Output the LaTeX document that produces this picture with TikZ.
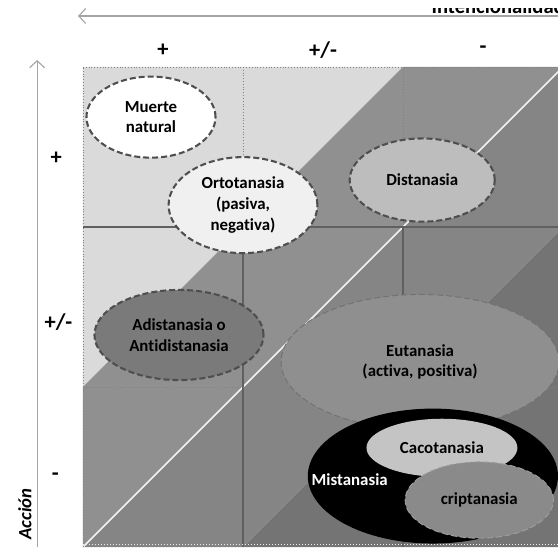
\documentclass[tikz,border=0pt]{standalone}
\usepackage{fontspec}
\setmainfont{Carlito}[Ligatures=NoCommon]
\usetikzlibrary{shapes.geometric,arrows.meta}
\definecolor{zonelight}{RGB}{218,218,218}
\definecolor{zonemid}{RGB}{144,144,144}
\definecolor{zonedark}{RGB}{133,133,133}
\definecolor{zonedeep}{RGB}{116,116,116}
\definecolor{rimgray}{RGB}{78,78,78}
\definecolor{axisgray}{RGB}{165,165,165}

\begin{document}
\begin{tikzpicture}[
  font=\fontsize{9}{11}\selectfont\bfseries,
  elip/.style={ellipse, draw=rimgray, line width=1.1pt, dash pattern=on 3.2pt off 1.6pt, align=center, inner sep=0pt},
  thinelip/.style={elip, line width=0.5pt, draw=rimgray!80},
  gridline/.style={rimgray!70, densely dotted, line width=0.5pt},
  cutline/.style={rimgray!90, line width=0.6pt},
  axis/.style={axisgray, line width=0.6pt, -{Straight Barb[length=1.3mm, width=2.8mm]}},
  scalelbl/.style={font=\fontsize{12}{14}\selectfont\bfseries}
]
\useasboundingbox (-1.556,0) rectangle (8.906,10.256);
% zonas de fondo
\fill[zonelight] (0,3) -- (0,9) -- (6,9) -- cycle;
\fill[zonemid]   (0,0) -- (0,3) -- (6,9) -- (9,9) -- cycle;
\fill[zonedark]  (0,0) -- (9,9) -- (9,6) -- (3,0) -- cycle;
\fill[zonedeep]  (3,0) -- (9,6) -- (9,0) -- cycle;
\draw[white!90!gray, line width=0.9pt] (0,0) -- (9,9);
% reticula
\draw[gridline] (0,9) -- (9,9);
\draw[gridline] (0,0) -- (0,9);
\draw[gridline] (3,9) -- (3,6);
\draw[gridline] (6,9) -- (6,6);
\draw[cutline] (3,6) -- (3,0);
\draw[cutline] (6,6) -- (6,0);
\draw[cutline] (0,6) -- (9,6);
\draw[gridline] (0,3) -- (9,3);
\draw[white!85!gray, densely dotted, line width=0.6pt] (0,0.04) -- (9,0.04);
% ejes
\coordinate (intR) at (9.2,9.956);
\coordinate (intL) at (-0.094,9.956);
\coordinate (accB) at (-0.86,0);
\coordinate (accT) at (-0.86,9.13);
\draw[axis] (intR) -- (intL);
\draw[axis] (accB) -- (accT);
\node[anchor=base west, font=\fontsize{11}{13}\selectfont\bfseries] (intenc) at (6.41,10.01) {Intencionalidad};
\fill[white] (-1.556,10.106) rectangle (8.906,10.3);
\node[rotate=90, font=\fontsize{10}{12}\selectfont\bfseries\itshape] (accion) at (-1.09,0.62) {Acción};
% escalas
\node[scalelbl] (cmas)   at (1.5,9.32) {+};
\node[scalelbl] (cmedio) at (4.5,9.32) {+/-};
\node[scalelbl] (cmenos) at (7.5,9.32) {-};
\node[scalelbl] (fmas)   at (-0.5,7.29) {+};
\node[scalelbl] (fmedio) at (-0.46,4.22) {+/-};
\node[scalelbl] (fmenos) at (-0.52,1.31) {-};
% conceptos
\node[elip, fill=white, minimum width=2.42cm, minimum height=1.52cm] (muerte) at (1.275,8.06) {Muerte\\natural};
\node[elip, fill=white!94!black, minimum width=2.79cm, minimum height=1.8cm] (orto) at (3.0,6.41) {Ortotanasia\\(pasiva,\\negativa)};
\node[elip, fill=white!74!black, minimum width=2.72cm, minimum height=1.56cm] (dist) at (6.36,6.88) {Distanasia};
\node[elip, fill=white!48!black, minimum width=3.17cm, minimum height=1.69cm] (adist) at (1.8,3.975) {Adistanasia o\\Antidistanasia};
\node[thinelip, fill=white!56!black, minimum width=5.21cm, minimum height=2.53cm] (euta) at (6.32,3.47) {Eutanasia\\(activa, positiva)};
\node[ellipse, fill=black, minimum width=4.69cm, minimum height=2.53cm] (mista) at (6.56,1.33) {};
\node[white] (mistxt) at (5.0,1.26) {Mistanasia};
\node[ellipse, fill=white!77!black, minimum width=2.83cm, minimum height=1.09cm] (caco) at (6.73,1.86) {Cacotanasia};
\node[thinelip, draw=white!62!black, fill=white!54!black, minimum width=2.78cm, minimum height=1.43cm] (cripta) at (7.43,0.88) {criptanasia};
\end{tikzpicture}
\end{document}
